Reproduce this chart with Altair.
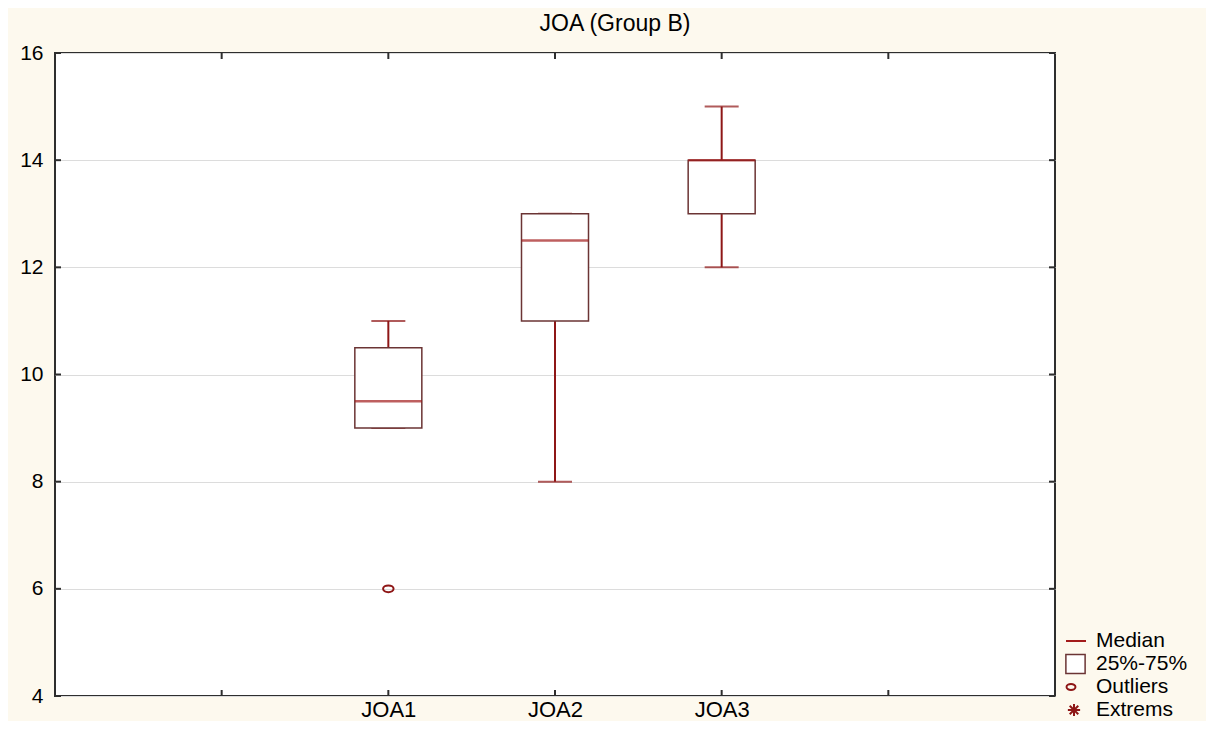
import altair as alt
import pandas as pd

# ---- data ----
categories = ["JOA1", "JOA2", "JOA3"]
q1 = [9.0, 11.0, 13.0]
median = [9.5, 12.5, 14.0]
q3 = [10.5, 13.0, 14.0]
wmin = [9.0, 8.0, 12.0]
wmax = [11.0, 13.0, 15.0]
outlier_cats = ["JOA1"]
outlier_vals = [6.0]
x_slots = ["pad_left", "JOA1", "JOA2", "JOA3", "pad_right"]
y_ticks = [4, 6, 8, 10, 12, 14, 16]
legend_labels = ["Median", "25%-75%", "Outliers", "Extrems"]

FONT = "Liberation Sans, Arial, sans-serif"
WH = "#8e1616"
MED = "#a31b1b"
BOX = "#6b3434"
FRAME = "#2e2e2e"
BG = "#fdf9ee"

box = pd.DataFrame(dict(cat=categories, q1=q1, med=median, q3=q3, lo=wmin, hi=wmax))
out = pd.DataFrame(dict(cat=outlier_cats, v=outlier_vals))
xt = pd.DataFrame(dict(cat=x_slots))
yt = pd.DataFrame(dict(v=y_ticks))
leg = pd.DataFrame(dict(label=legend_labels))

xscale = alt.Scale(type="point", domain=x_slots, padding=1)
yscale = alt.Scale(domain=[4, 16], nice=False, zero=False)

xaxis = alt.Axis(
    labelExpr="indexof(datum.label, 'pad') == 0 ? '' : datum.label",
    ticks=False, tickSize=0, domain=False, grid=False, labelAngle=0,
    labelPadding=3, labelFontSize=22, labelFont=FONT, labelColor="black",
    title=None,
)
yaxis = alt.Axis(
    values=y_ticks, grid=True, gridColor="#dcdcdc", gridWidth=1,
    ticks=False, tickSize=0, domain=False, labelPadding=12,
    labelFontSize=21, labelFont=FONT, labelColor="black", title=None,
)


def X():
    return alt.X("cat:N", scale=xscale, axis=xaxis)


def Y(field):
    return alt.Y(f"{field}:Q", scale=yscale, axis=yaxis)


whisk = alt.Chart(box).mark_rule(color=WH, strokeWidth=2).encode(x=X(), y=Y("lo"), y2="hi")
cap_lo = alt.Chart(box).mark_tick(color=WH, thickness=2, size=34).encode(x=X(), y=Y("lo"))
cap_hi = alt.Chart(box).mark_tick(color=WH, thickness=2, size=34).encode(x=X(), y=Y("hi"))
rect = alt.Chart(box).mark_bar(size=67, fill="white", stroke=BOX, strokeWidth=1.5).encode(
    x=X(), y=Y("q1"), y2="q3"
)
med = alt.Chart(box).mark_tick(color=MED, thickness=2.5, size=67).encode(x=X(), y=Y("med"))

ellipse = "M-1,0A1,0.65 0 1,1 1,0A1,0.65 0 1,1 -1,0Z"
outl = alt.Chart(out).mark_point(
    shape=ellipse, size=110, filled=False, color=WH, strokeWidth=2, opacity=1
).encode(x=X(), y=Y("v"))

tick_b = alt.Chart(xt).mark_rule(color=FRAME, strokeWidth=2).encode(
    x=X(), y=alt.value(643), y2=alt.value(637)
)
tick_t = alt.Chart(xt).mark_rule(color=FRAME, strokeWidth=2).encode(
    x=X(), y=alt.value(0), y2=alt.value(6)
)
tick_l = alt.Chart(yt).mark_rule(color=FRAME, strokeWidth=2).encode(
    y=Y("v"), x=alt.value(0), x2=alt.value(6)
)
tick_r = alt.Chart(yt).mark_rule(color=FRAME, strokeWidth=2).encode(
    y=Y("v"), x=alt.value(1000), x2=alt.value(994)
)

main = alt.layer(whisk, cap_lo, cap_hi, rect, med, outl, tick_b, tick_t, tick_l, tick_r)

# ---- manual legend (bottom right, outside the frame) ----
LY = alt.Y("label:N", scale=alt.Scale(type="point", domain=legend_labels, range=[588, 657], padding=0), axis=None)
leg_text = alt.Chart(leg).mark_text(
    align="left", baseline="middle", fontSize=21, font=FONT, color="black"
).encode(x=alt.value(1041), y=LY, text="label:N")
leg_line = alt.Chart(leg).transform_filter(alt.datum.label == "Median").mark_rule(
    color=MED, strokeWidth=2
).encode(x=alt.value(1011), x2=alt.value(1031), y=LY)
leg_box = alt.Chart(leg).transform_filter(alt.datum.label == "25%-75%").mark_point(
    shape="square", size=370, filled=True, fill="white", stroke=BOX, strokeWidth=1.5, opacity=1
).encode(x=alt.value(1020.5), y=LY)
leg_out = alt.Chart(leg).transform_filter(alt.datum.label == "Outliers").mark_point(
    shape=ellipse, size=80, filled=False, color=WH, strokeWidth=2, opacity=1
).encode(x=alt.value(1016), y=LY)
asterisk = "M0,-1L0,1M-1,0L1,0M-0.7,-0.7L0.7,0.7M-0.7,0.7L0.7,-0.7"
leg_ext = alt.Chart(leg).transform_filter(alt.datum.label == "Extrems").mark_point(
    shape=asterisk, size=150, filled=False, color=WH, strokeWidth=2, opacity=1
).encode(x=alt.value(1019), y=LY)

legend = alt.layer(leg_text, leg_line, leg_box, leg_out, leg_ext)

chart = (
    alt.layer(main, legend)
    .resolve_scale(y="independent")
    .properties(
        width=1000,
        height=643,
        autosize=alt.AutoSizeParams(type="none"),
        padding={"left": 47, "top": 45, "right": 151, "bottom": 25},
        background=BG,
        title=alt.TitleParams(
            "JOA (Group B)", fontSize=23, font=FONT, fontWeight="normal",
            color="black", anchor="middle", dx=60, offset=6,
        ),
    )
    .configure_view(stroke=FRAME, strokeWidth=2, fill="white")
)

chart.save("out.html", embed_options={"renderer": "svg", "actions": False})
